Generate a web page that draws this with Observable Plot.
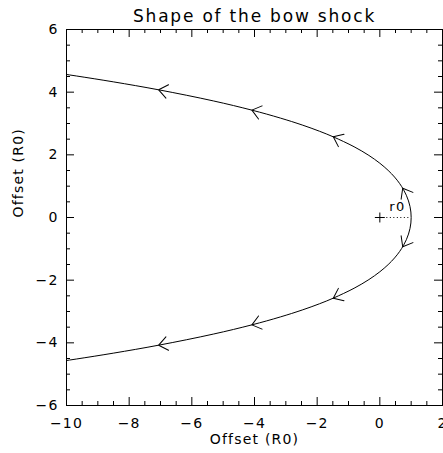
<!DOCTYPE html>
<html>
<head>
<meta charset="utf-8">
<script src="https://cdn.jsdelivr.net/npm/d3@7"></script>
<script src="https://cdn.jsdelivr.net/npm/@observablehq/plot@0.6"></script>
<style>
  html, body { margin: 0; padding: 0; background: #fff; }
  #chart svg text { letter-spacing: 1.2px; }
  #chart svg g[font-size="17"] text { letter-spacing: 1.8px; }
</style>
</head>
<body>
<div id="chart"></div>
<script>
// Bow shock outline, lower branch then upper branch
const bowX = [-10.377, -9.687, -8.492, -7.058, -5.314, -4.083, -3.173, -2.477, -1.928, -1.486, -0.822, -0.349, 0, 0.265, 0.470, 0.629, 0.752, 0.846, 0.915, 0.963, 0.991,
              1,
              0.991, 0.963, 0.915, 0.846, 0.752, 0.629, 0.470, 0.265, 0, -0.349, -0.822, -1.486, -1.928, -2.477, -3.173, -4.083, -5.314, -7.058, -8.492, -9.687, -10.377];
const bowY = [-4.620, -4.517, -4.327, -4.075, -3.721, -3.426, -3.173, -2.952, -2.754, -2.574, -2.258, -1.981, -1.732, -1.504, -1.291, -1.089, -0.896, -0.710, -0.529, -0.350, -0.175,
              0,
              0.175, 0.350, 0.529, 0.710, 0.896, 1.089, 1.291, 1.504, 1.732, 1.981, 2.258, 2.574, 2.754, 2.952, 3.173, 3.426, 3.721, 4.075, 4.327, 4.517, 4.620];

// Flow arrows: tip position and a point just behind it on the curve
const arrowTipX  = [0.730, -1.486, -4.083, -7.058, 0.730, -1.486, -4.083, -7.058];
const arrowTipY  = [0.934, 2.574, 3.426, 4.075, -0.934, -2.574, -3.426, -4.075];
const arrowTailX = [0.773, -1.124, -3.507, -6.280, 0.773, -1.124, -3.507, -6.280];
const arrowTailY = [0.859, 2.410, 3.270, 3.924, -0.859, -2.410, -3.270, -3.924];

// Standoff marker
const centerX = [0];
const centerY = [0];
const r0Label = ["r0"];
const r0LabelX = [0.56];
const r0LabelY = [0.33];

// Axes
const xMajor = [-10, -8, -6, -4, -2, 0, 2];
const xMinor = [-9.5, -9, -8.5, -7.5, -7, -6.5, -5.5, -5, -4.5, -3.5, -3, -2.5, -1.5, -1, -0.5, 0.5, 1, 1.5];
const yMajor = [-6, -4, -2, 0, 2, 4, 6];
const yMinor = [-5.5, -5, -4.5, -3.5, -3, -2.5, -1.5, -1, -0.5, 0.5, 1, 1.5, 2.5, 3, 3.5, 4.5, 5, 5.5];
const xDomain = [-10, 2];
const yDomain = [-6, 6];

const title = "Shape of the bow shock";
const xLabel = "Offset (R0)";
const yLabel = "Offset (R0)";

const W = 443, H = 453, mL = 66, mR = 1, mT = 29, mB = 48;
const plotW = W - mL - mR, plotH = H - mT - mB;
const majorLen = 8, minorLen = 4;

const bow = bowX.map((x, i) => ({x, y: bowY[i]}));
const arrows = arrowTipX.map((x, i) => {
  const dx = x - arrowTailX[i], dy = arrowTipY[i] - arrowTailY[i];
  return {x, y: arrowTipY[i], r: Math.atan2(dx, dy) * 180 / Math.PI};
});
const chevron = {
  draw(ctx) {
    ctx.moveTo(-6.8, 8.7);
    ctx.lineTo(0, 0);
    ctx.lineTo(6.8, 8.7);
  }
};

const font = "'DejaVu Sans', sans-serif";

const chart = Plot.plot({
  width: W, height: H,
  marginLeft: mL, marginRight: mR, marginTop: mT, marginBottom: mB,
  style: {fontFamily: font, fontSize: "13px", color: "black", background: "white"},
  x: {domain: xDomain},
  y: {domain: yDomain},
  marks: [
    Plot.axisX(xMajor, {anchor: "bottom", tickSize: 0, tickPadding: 13, fontSize: 14, label: null}),
    Plot.axisY(yMajor, {anchor: "left", tickSize: 0, tickPadding: 8, fontSize: 14, label: null}),
    // inward ticks on all four sides
    Plot.tickX(xMajor, {x: d => d, insetTop: plotH - majorLen, stroke: "black"}),
    Plot.tickX(xMajor, {x: d => d, insetBottom: plotH - majorLen, stroke: "black"}),
    Plot.tickX(xMinor, {x: d => d, insetTop: plotH - minorLen, stroke: "black"}),
    Plot.tickX(xMinor, {x: d => d, insetBottom: plotH - minorLen, stroke: "black"}),
    Plot.tickY(yMajor, {y: d => d, insetRight: plotW - majorLen, stroke: "black"}),
    Plot.tickY(yMajor, {y: d => d, insetLeft: plotW - majorLen, stroke: "black"}),
    Plot.tickY(yMinor, {y: d => d, insetRight: plotW - minorLen, stroke: "black"}),
    Plot.tickY(yMinor, {y: d => d, insetLeft: plotW - minorLen, stroke: "black"}),
    Plot.frame({stroke: "black"}),
    Plot.line(bow, {x: "x", y: "y", curve: "catmull-rom", stroke: "black", strokeWidth: 1, clip: true}),
    Plot.vector(arrows, {x: "x", y: "y", rotate: "r", length: 10, anchor: "start", shape: chevron, stroke: "black", fill: "none", strokeWidth: 1}),
    Plot.ruleY(centerY, {y: d => d, x1: 0, x2: 1, stroke: "black", strokeDasharray: "1,2.5"}),
    Plot.dot(centerX, {x: d => d, y: (d, i) => centerY[i], symbol: "plus", r: 3.3, stroke: "black", strokeWidth: 1}),
    Plot.text(r0Label, {x: (d, i) => r0LabelX[i], y: (d, i) => r0LabelY[i], text: d => d, fontSize: 13}),
    Plot.text([title], {frameAnchor: "top", dy: -8, fontSize: 17, lineAnchor: "bottom", text: d => d}),
    Plot.text([xLabel], {frameAnchor: "bottom", dy: 38, fontSize: 14, text: d => d}),
    Plot.text([yLabel], {frameAnchor: "left", dx: -48, rotate: -90, fontSize: 14, text: d => d})
  ]
});
document.getElementById("chart").appendChild(chart);
</script>
</body>
</html>
